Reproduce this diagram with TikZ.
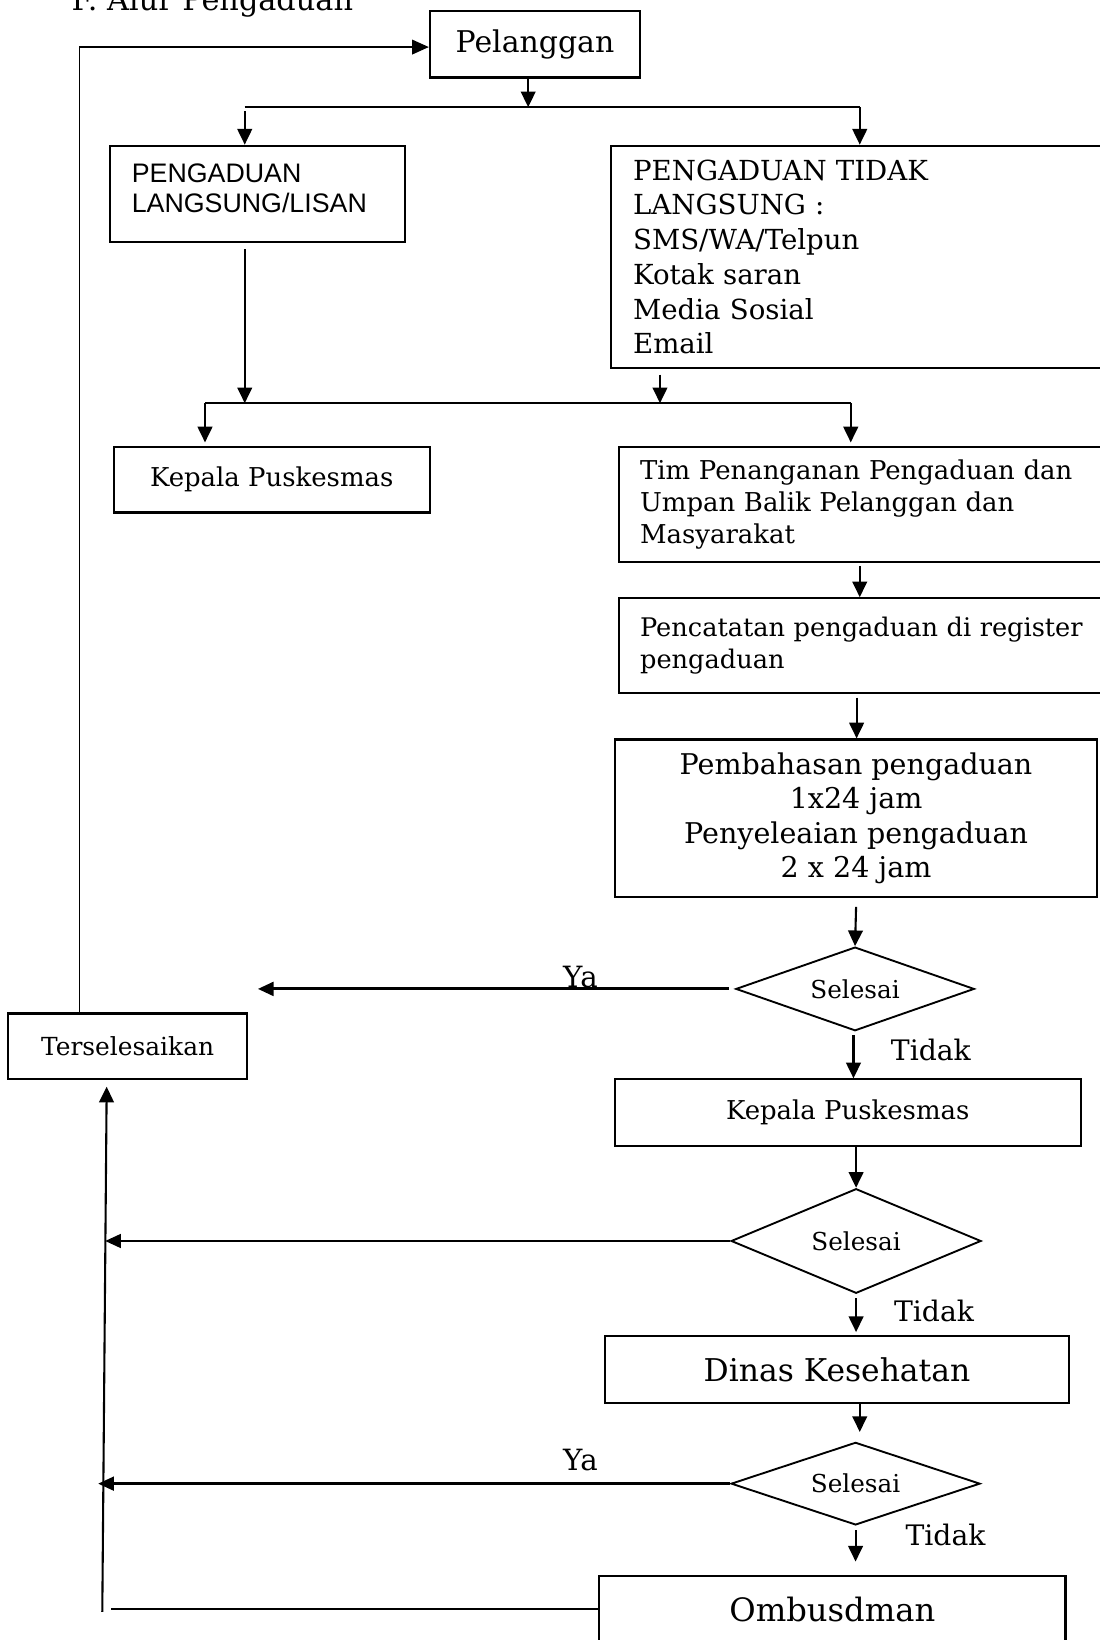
\documentclass[tikz,border=0pt]{standalone}
\usepackage{fontspec}
\setmainfont{DejaVu Serif}
\newfontfamily\arialfont{Liberation Sans}
\usetikzlibrary{arrows.meta,shapes.geometric,calc}
\newcommand\fsz[2]{\fontsize{#1}{#2}\selectfont}
\begin{document}
\begin{tikzpicture}[x=0.5pt,y=-0.5pt,
  box/.style={draw, line width=1pt, inner sep=0pt, align=center},
  lbox/.style={draw, line width=1pt, inner sep=0pt, align=left},
  dia/.style={draw, diamond, line width=0.9pt, inner sep=0pt},
  arr/.style={line width=1pt, -{Triangle[length=7.5pt,width=7pt]}},
  ln/.style={line width=1pt},
  lbl/.style={inner sep=0pt}]
\useasboundingbox (0,0) rectangle (1051,1568);

% title (cut at top, as in the original)
\node[lbl, anchor=base west, font=\fsz{14.5}{17}] (title) at (68,9.6) {F. Alur Pengaduan};

% boxes
\node[box, minimum width=100.5pt, minimum height=32pt, font=\fsz{14.3}{17}] (pel) at (511.5,42.1) {Pelanggan};
\node[lbox, inner xsep=10.3pt, text width=120.2pt, minimum width=140.8pt, minimum height=45.9pt,
      font=\arialfont\fsz{12.8}{14.2}, text height=4pt] (lisan) at (246.2,185.2) {PENGADUAN\\LANGSUNG/LISAN};
\node[lbox, inner xsep=10.65pt, text width=217.7pt, minimum width=239pt, minimum height=106.4pt,
      font=\fsz{13.2}{16.6}] (tidak) at (823,245.7) {PENGADUAN TIDAK\\LANGSUNG :\\SMS/WA/Telpun\\Kotak saran\\Media Sosial\\Email};
\node[box, minimum width=151pt, minimum height=31.5pt, font=\fsz{12.4}{15}] (kp1) at (259.8,458.5) {Kepala Puskesmas};
\node[lbox, inner xsep=10pt, text width=215pt, minimum width=235pt, minimum height=55pt,
      font=\fsz{12.4}{15.3}] (tim) at (827,482) {Tim Penanganan Pengaduan dan\\Umpan Balik Pelanggan dan\\Masyarakat};
\node[lbox, inner xsep=10pt, text width=215pt, minimum width=235pt, minimum height=45.5pt,
      font=\fsz{12.25}{15.4}] (pen) at (827,617.5) {Pencatatan pengaduan di register\\pengaduan};
\node[box, minimum width=230.5pt, minimum height=75.5pt, font=\fsz{13.65}{16.5}] (pemb) at (818.5,782.5)
      {Pembahasan pengaduan\\1x24 jam\\Penyeleaian pengaduan\\2 x 24 jam};
\node[dia, shape aspect=2.85, minimum width=114pt, minimum height=40pt, font=\fsz{11.8}{14}] (d1) at (817.5,945.5) {Selesai};
\node[box, minimum width=114pt, minimum height=31.5pt, font=\fsz{11.9}{14}] (ters) at (122,1000.5) {Terselesaikan};
\node[box, minimum width=222.9pt, minimum height=31.8pt, font=\fsz{12.4}{15}] (kp2) at (810.5,1063.8) {Kepala Puskesmas};
\node[dia, shape aspect=2.4, minimum width=119.5pt, minimum height=50pt, font=\fsz{11.8}{14}] (d2) at (818.5,1186.5) {Selesai};
\node[box, minimum width=221.8pt, minimum height=31.9pt, font=\fsz{15}{18}] (dk) at (800.2,1309.5) {Dinas Kesehatan};
\node[dia, shape aspect=3, minimum width=119pt, minimum height=39.5pt, font=\fsz{11.8}{14}] (d3) at (818,1418.5) {Selesai};
\node[box, minimum width=222.9pt, minimum height=31.5pt, font=\fsz{15.4}{18}] (omb) at (795.8,1538.5) {Ombusdman};

% labels
\node[lbl, font=\fsz{14}{16}] (ya1) at (555,934) {Ya};
\node[lbl, font=\fsz{13.5}{16}] (td1) at (890,1004) {Tidak};
\node[lbl, font=\fsz{13.5}{16}] (td2) at (893,1253) {Tidak};
\node[lbl, font=\fsz{14}{16}] (ya3) at (555,1396) {Ya};
\node[lbl, font=\fsz{13.5}{16}] (td3) at (904,1468) {Tidak};

% junction coordinates
\coordinate (j1) at (505,102.5);
\coordinate (jL1) at (234,102.5);
\coordinate (jR1) at (822,102.5);
\coordinate (jA) at (196,385.5);
\coordinate (jB) at (813.4,385.5);
\coordinate (jL2) at (234,385.5);
\coordinate (jM2) at (631,385.5);
\coordinate (e1) at (246.5,945.5);
\coordinate (e2) at (100.5,1186.5);
\coordinate (e3) at (93.8,1418.5);
\coordinate (o1) at (106,1538.5);
\coordinate (vb) at (97.8,1541);
\coordinate (tl) at (76,45);

% connectors top
\draw[line width=0.8pt, -{Triangle[length=8pt,width=7pt]}] (ters.north -| tl) -- (tl) -- (pel.west |- tl);
\draw[arr] (pel.south -| j1) -- (j1);
\draw[ln] (jL1) -- (jR1);
\draw[arr] ([yshift=-2pt]jL1) -- (lisan.north -| jL1);
\draw[arr] (jR1) -- (tidak.north -| jR1);
\draw[arr] ([yshift=-3pt]lisan.south -| jL2) -- (jL2);
\draw[arr] ([yshift=-2.5pt]tidak.south -| jM2) -- (jM2);
\draw[ln] (jA) -- (jB);
\draw[arr] (jA) -- ([yshift=1.5pt]kp1.north -| jA);
\draw[arr] (jB) -- ([yshift=1.5pt]tim.north -| jB);
\draw[arr] ([xshift=-2.5pt,yshift=-1.5pt]tim.south) -- ([xshift=-2.5pt]pen.north);
\draw[arr] ([xshift=-4pt,yshift=-1.5pt]pen.south) -- ([xshift=-4pt]pen.south |- pemb.north);
\draw[arr] ([yshift=-4pt]pemb.south) -- (d1.north);

% decisions
\draw[line width=1.5pt, -{Triangle[length=7.5pt,width=6.5pt]}] ([xshift=-3pt]d1.west) -- (e1);
\draw[arr] ([xshift=-.75pt,yshift=-1.5pt]d1.south) -- ([xshift=-.75pt]d1.south |- kp2.north);
\draw[arr] (kp2.south -| d2.north) -- (d2.north);
\draw[line width=1.2pt, -{Triangle[length=7.5pt,width=6.5pt]}] (d2.west) -- (e2);
\draw[arr] ([yshift=-2pt]d2.south) -- ([yshift=1.5pt]d2.south |- dk.north);
\draw[arr] ([xshift=10.9pt]dk.south) -- ([xshift=10.9pt,yshift=4.5pt]dk.south |- d3.north);
\draw[line width=1.3pt, -{Triangle[length=7.5pt,width=6.5pt]}] (d3.west) -- (e3);
\draw[arr] ([yshift=-2pt]d3.south) -- ([yshift=6.5pt]d3.south |- omb.north);
\draw[line width=1.2pt] (omb.west) -- (o1);
\draw[arr] (vb) -- ([xshift=-10pt,yshift=-3pt]ters.south);
\end{tikzpicture}
\end{document}
